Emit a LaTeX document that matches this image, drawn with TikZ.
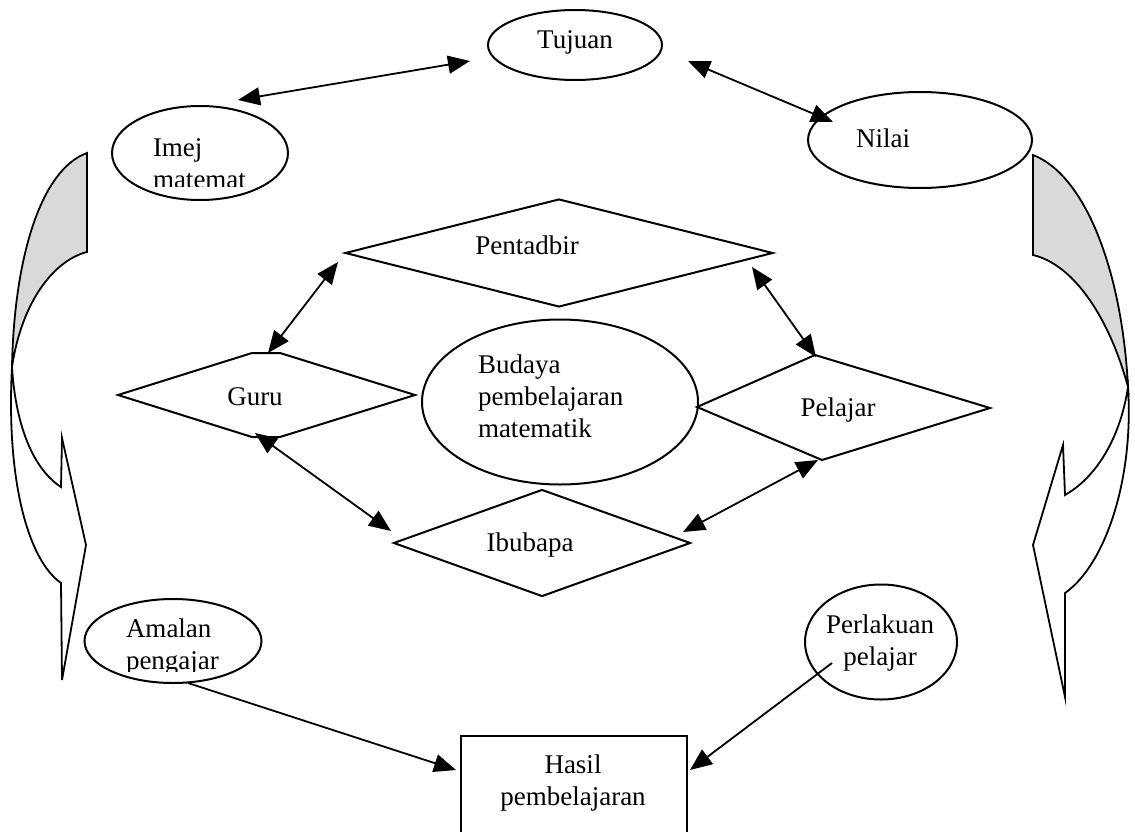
\documentclass[tikz,border=0pt]{standalone}
\usepackage{fontspec}
\setmainfont{Liberation Serif}
\usetikzlibrary{shapes.geometric,arrows.meta}
\begin{document}
\begin{tikzpicture}[x=1pt,y=-1pt,
  line width=2pt,
  txt/.style={font=\fontsize{27}{32}\selectfont, align=left, inner sep=0pt},
  oval/.style={draw, ellipse, inner sep=0pt},
  dia/.style={draw, diamond, inner sep=0pt},
  biarrow/.style={line width=1.8pt, {Triangle[length=22pt,width=18pt]}-{Triangle[length=22pt,width=18pt]}},
  onearrow/.style={line width=1.8pt, -{Triangle[length=22pt,width=18pt]}},
  ribbon/.style={draw, line width=1.8pt, line join=miter}
]
\useasboundingbox (0,0) rectangle (1135,832);

% ---- curved arrows ----
\fill[gray!30] (87,153) .. controls (40,170) and (14,260) .. (12,367)
   .. controls (22,300) and (55,260) .. (87,252) -- cycle;
\draw[ribbon] (87,153) .. controls (40,170) and (14,260) .. (12,367)
   .. controls (22,300) and (55,260) .. (87,252) -- cycle;
\draw[ribbon, fill=white] (12,367) .. controls (6,480) and (28,560) .. (61,583)
   -- (62,680) -- (86,545) -- (62,438) -- (61,487)
   .. controls (35,470) and (16,430) .. (12,367) -- cycle;

\fill[gray!30] (1033,155) .. controls (1085,175) and (1122,270) .. (1128,387)
   .. controls (1110,320) and (1075,265) .. (1033,255) -- cycle;
\draw[ribbon] (1033,155) .. controls (1085,175) and (1122,270) .. (1128,387)
   .. controls (1110,320) and (1075,265) .. (1033,255) -- cycle;
\draw[ribbon, fill=white] (1128,387) .. controls (1134,480) and (1105,565) .. (1065,593)
   -- (1065,697) -- (1033,545) -- (1063,445) -- (1065,495)
   .. controls (1095,478) and (1120,440) .. (1128,387) -- cycle;

% ---- ovals ----
\node[oval, minimum width=174pt, minimum height=70pt] (tujuan) at (575,45) {};
\node[txt] (tujuanT) at (575,42) {Tujuan};

\node[oval, minimum width=176pt, minimum height=94pt] (imej) at (200,153) {};
\begin{scope}
  \clip (112,100) rectangle (288,186);
  \node[txt, anchor=north west] (imejT) at (152,138) {Imej\\matemat};
\end{scope}

\node[oval, minimum width=224pt, minimum height=96pt] (nilai) at (920,140) {};
\node[txt] (nilaiT) at (883,138) {Nilai};

\node[oval, minimum width=276pt, minimum height=165pt] (budaya) at (560,402) {};
\node[txt, anchor=north west] (budayaT) at (477,354) {Budaya\\pembelajaran\\matematik};

\node[oval, minimum width=152pt, minimum height=115pt] (perlakuan) at (881,642) {};
\node[txt, align=center] (perlakuanT) at (880,643) {Perlakuan\\pelajar};

\node[oval, minimum width=177pt, minimum height=84pt] (amalan) at (173,641) {};
\begin{scope}
  \clip (85,590) rectangle (262,671);
  \node[txt, anchor=north west] (amalanT) at (125,618) {Amalan\\pengajar};
\end{scope}

% ---- diamonds ----
\node[dia, minimum width=428pt, minimum height=108pt] (pentadbir) at (559,253) {};
\node[txt] (pentadbirT) at (527,245) {Pentadbir};

\draw (118,395) -- (252,353) -- (280,353) -- (415,395) -- (280,437) -- (252,437) -- cycle;
\node[txt] (guru) at (255,397) {Guru};

\draw (697,407) -- (815,355) -- (990,408) -- (822,460) -- cycle;
\node[txt] (pelajar) at (838,410) {Pelajar};

\node[dia, minimum width=297pt, minimum height=107pt] (ibubapa) at (542,543) {};
\node[txt] (ibubapaT) at (530,545) {Ibubapa};

% ---- result box ----
\node[draw, minimum width=226pt, minimum height=110pt, anchor=north west] (hasil) at (460,735) {};
\node[txt, align=center] (hasilT) at (573,783) {Hasil\\pembelajaran};

% ---- connector end points ----
\coordinate (imejA) at (238,100);
\coordinate (tujuanA) at (470,61);
\coordinate (tujuanB) at (688,61);
\coordinate (nilaiA) at (833,122);
\coordinate (guruA) at (268,353);
\coordinate (pentA) at (338,262);
\coordinate (pentB) at (752,267);
\coordinate (pelA) at (816,357);
\coordinate (guruB) at (255,433);
\coordinate (ibuA) at (391,531);
\coordinate (pelB) at (818,460);
\coordinate (ibuB) at (683,532);
\coordinate (amalanA) at (188,683);
\coordinate (hasilA) at (456,770);
\coordinate (perlA) at (832,663);
\coordinate (hasilB) at (690,770);

\draw[biarrow] (imejA) -- (tujuanA);
\draw[biarrow] (tujuanB) -- (nilaiA);
\draw[biarrow] (guruA) -- (pentA);
\draw[biarrow] (pentB) -- (pelA);
\draw[biarrow] (guruB) -- (ibuA);
\draw[biarrow] (pelB) -- (ibuB);
\draw[onearrow] (amalanA) -- (hasilA);
\draw[onearrow] (perlA) -- (hasilB);
\end{tikzpicture}
\end{document}
